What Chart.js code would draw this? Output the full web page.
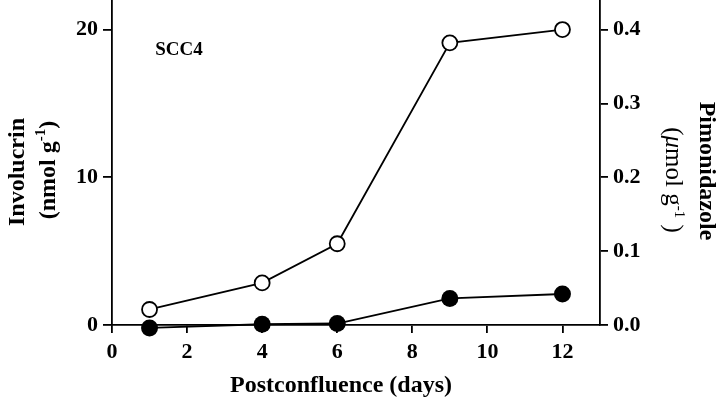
<!DOCTYPE html>
<html>
<head>
<meta charset="utf-8">
<script src="https://cdn.jsdelivr.net/npm/chart.js@4/dist/chart.umd.min.js"></script>
<style>
  html, body { margin: 0; padding: 0; background: #fff; }
</style>
</head>
<body>
<canvas id="chart" width="722" height="400"></canvas>
<script>
const days = [1, 4, 6, 9, 12];
const involucrin = [1.05, 2.85, 5.5, 19.1, 20.0];        // open circles, left axis (nmol g-1)
const pimonidazole = [-0.004, 0.001, 0.002, 0.036, 0.042]; // filled circles, right axis (umol g-1)
const xTicks = [0, 2, 4, 6, 8, 10, 12];
const leftTicks = [0, 10, 20];
const rightTicks = [0.0, 0.1, 0.2, 0.3, 0.4];

const FONT = "'Liberation Serif', 'Times New Roman', serif";

// draws a line of text made of parts (normal / superscript / italic), centred at 0,0
function fontOf(p) {
    return (p.italic ? 'italic ' : '') + (p.regular ? '' : 'bold ') + p.size + 'px ' + FONT;
}
function drawParts(ctx, parts) {
    let total = 0;
    parts.forEach(p => {
        ctx.font = fontOf(p);
        p.w = ctx.measureText(p.text).width;
        total += p.w;
    });
    let x = -total / 2;
    ctx.textAlign = 'left';
    ctx.textBaseline = 'middle';
    parts.forEach(p => {
        ctx.font = fontOf(p);
        ctx.fillText(p.text, x, p.dy || 0);
        x += p.w;
    });
}

const titlesPlugin = {
    id: 'titles',
    afterDraw(chart) {
        const ctx = chart.ctx;
        const x = chart.scales.x, y = chart.scales.y;
        ctx.save();
        ctx.fillStyle = '#000';

        // panel label
        ctx.font = 'bold 19px ' + FONT;
        ctx.textAlign = 'left';
        ctx.textBaseline = 'middle';
        ctx.fillText('SCC4', x.getPixelForValue(1.15), y.getPixelForValue(18.6));

        // x title
        ctx.save();
        ctx.translate(341, 386);
        drawParts(ctx, [{text: 'Postconfluence (days)', size: 24}]);
        ctx.restore();

        // left title
        ctx.save();
        ctx.translate(18, 172);
        ctx.rotate(-Math.PI / 2);
        drawParts(ctx, [{text: 'Involucrin', size: 24}]);
        ctx.restore();
        ctx.save();
        ctx.translate(49, 170);
        ctx.rotate(-Math.PI / 2);
        drawParts(ctx, [{text: '(nmol g', size: 24}, {text: '-1', size: 15, dy: -8}, {text: ')', size: 24}]);
        ctx.restore();

        // right title
        ctx.save();
        ctx.translate(706, 171);
        ctx.rotate(Math.PI / 2);
        drawParts(ctx, [{text: 'Pimonidazole', size: 24}]);
        ctx.restore();
        ctx.save();
        ctx.translate(673, 180);
        ctx.rotate(Math.PI / 2);
        drawParts(ctx, [
            {text: '(', size: 25, regular: true},
            {text: 'μ', size: 25, italic: true, regular: true},
            {text: 'mol g', size: 25, regular: true},
            {text: '-1', size: 15, dy: -6, regular: true},
            {text: ' )', size: 25, regular: true}
        ]);
        ctx.restore();

        ctx.restore();
    }
};

function keepTicks(list) {
    return function (scale) {
        scale.ticks = list.map(v => ({value: v}));
    };
}

// fixed axis box sizes, no extra padding for end labels
function fitTo(prop, size) {
    return function (scale) {
        scale[prop] = size;
        scale.paddingTop = 0;
        scale.paddingBottom = 0;
        scale.paddingLeft = 0;
        scale.paddingRight = 0;
    };
}

const tickFont = {family: FONT, size: 22, weight: 'bold'};

new Chart(document.getElementById('chart').getContext('2d'), {
    type: 'line',
    data: {
        datasets: [{
            label: 'Involucrin',
            data: days.map((d, i) => ({x: d, y: involucrin[i]})),
            yAxisID: 'y',
            borderColor: '#000',
            borderWidth: 1.8,
            pointRadius: 7.5,
            pointBorderWidth: 1.8,
            pointBackgroundColor: '#fff',
            pointBorderColor: '#000',
            clip: false
        }, {
            label: 'Pimonidazole',
            data: days.map((d, i) => ({x: d, y: pimonidazole[i]})),
            yAxisID: 'y2',
            borderColor: '#000',
            borderWidth: 1.8,
            pointRadius: 8.5,
            pointBorderWidth: 0,
            pointBackgroundColor: '#000',
            pointBorderColor: '#000',
            clip: false
        }]
    },
    options: {
        responsive: false,
        animation: false,
        layout: {padding: 0, autoPadding: false},
        plugins: {legend: {display: false}, tooltip: {enabled: false}},
        scales: {
            x: {
                type: 'linear',
                min: 0,
                max: 13,
                afterBuildTicks: keepTicks(xTicks),
                afterFit: fitTo('height', 75),
                border: {display: true, color: '#000', width: 1.8},
                grid: {display: true, drawOnChartArea: false, drawTicks: true, tickLength: 8, color: '#000', lineWidth: 1.8},
                ticks: {font: tickFont, color: '#000', padding: 6, maxRotation: 0}
            },
            y: {
                position: 'left',
                min: 0,
                max: 22,
                afterBuildTicks: keepTicks(leftTicks),
                afterFit: fitTo('width', 112),
                border: {display: true, color: '#000', width: 1.8},
                grid: {display: true, drawOnChartArea: false, drawTicks: true, tickLength: 9, color: '#000', lineWidth: 1.8},
                ticks: {font: tickFont, color: '#000', padding: 5}
            },
            y2: {
                position: 'right',
                min: 0,
                max: 0.44,
                afterBuildTicks: keepTicks(rightTicks),
                afterFit: fitTo('width', 122),
                border: {display: true, color: '#000', width: 1.8},
                grid: {display: true, drawOnChartArea: false, drawTicks: true, tickLength: 8, color: '#000', lineWidth: 1.8},
                ticks: {font: tickFont, color: '#000', padding: 5, callback: v => v.toFixed(1)}
            }
        }
    },
    plugins: [titlesPlugin]
});
</script>
</body>
</html>
